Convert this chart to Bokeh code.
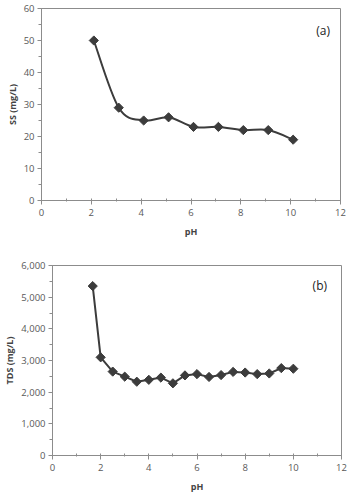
import numpy as np
from bokeh.plotting import figure
from bokeh.layouts import column, row
from bokeh.models import NumeralTickFormatter, FixedTicker, Label, Range1d
from bokeh.embed import file_html
from bokeh.resources import INLINE

# Data
ss_ph = [2.1, 3.1, 4.1, 5.1, 6.1, 7.1, 8.1, 9.1, 10.1]
ss_val = [50, 29, 25, 26, 23, 23, 22, 22, 19]

tds_ph = [1.67, 2.0, 2.5, 3.0, 3.5, 4.0, 4.5, 5.0, 5.5, 6.0, 6.5, 7.0, 7.5, 8.0, 8.5, 9.0, 9.5, 10.0]
tds_val = [5350, 3100, 2650, 2490, 2330, 2390, 2460, 2280, 2530, 2570, 2480, 2540, 2640, 2620, 2570, 2590, 2760, 2740]

x_ticks = [0, 2, 4, 6, 8, 10, 12]
ss_ticks = [0, 10, 20, 30, 40, 50, 60]
tds_ticks = [0, 1000, 2000, 3000, 4000, 5000, 6000]

FONT = "Open Sans"
LINE = "#3c3c3c"
AX = "#8c8c8c"
TXT = "#595959"


def style(p, yticks, ylabel):
    p.outline_line_color = AX
    p.outline_line_width = 1
    p.xgrid.visible = False
    p.ygrid.visible = False
    p.background_fill_color = "white"
    p.border_fill_color = "white"
    p.xaxis.ticker = FixedTicker(ticks=x_ticks, minor_ticks=list(range(0, 13)))
    p.yaxis.ticker = FixedTicker(ticks=yticks,
                                 minor_ticks=list(np.arange(yticks[0], yticks[-1] + 1, (yticks[1] - yticks[0]) / 2)))
    for ax in (p.xaxis[0], p.yaxis[0]):
        ax.axis_line_color = AX
        ax.major_tick_line_color = AX
        ax.minor_tick_line_color = AX
        ax.major_tick_in = 0
        ax.major_tick_out = 4
        ax.minor_tick_in = 0
        ax.minor_tick_out = 3
        ax.major_label_text_font = FONT
        ax.major_label_text_font_size = "9.5px"
        ax.major_label_text_color = TXT
        ax.axis_label_text_font = FONT
        ax.axis_label_text_font_size = "9px"
        ax.axis_label_text_font_style = "bold"
        ax.axis_label_text_color = "#444444"
    p.xaxis.minor_tick_in = 2
    p.xaxis.minor_tick_out = 1
    p.xaxis.axis_label = "pH"
    p.yaxis.axis_label = ylabel
    p.xaxis.major_label_standoff = 4
    p.yaxis.major_label_standoff = 3
    p.xaxis.axis_label_standoff = 6
    p.yaxis.axis_label_standoff = 2


# Top chart (a)
p1 = figure(width=350, height=245, output_backend="svg", toolbar_location=None,
            x_range=Range1d(0, 12), y_range=Range1d(0, 60),
            min_border_left=41, min_border_right=10, min_border_top=8, min_border_bottom=45)
style(p1, ss_ticks, "SS (mg/L)")

x = np.array(ss_ph, dtype=float)
y = np.array(ss_val, dtype=float)
n = len(x)
xp = np.concatenate([[x[0]], x, [x[-1]]])
yp = np.concatenate([[y[0]], y, [y[-1]]])
cx0 = x[:-1] + (xp[2:n + 1] - xp[0:n - 1]) / 6
cy0 = y[:-1] + (yp[2:n + 1] - yp[0:n - 1]) / 6
cx1 = x[1:] - (xp[3:n + 2] - xp[1:n]) / 6
cy1 = y[1:] - (yp[3:n + 2] - yp[1:n]) / 6
p1.bezier(x0=x[:-1], y0=y[:-1], x1=x[1:], y1=y[1:], cx0=cx0, cy0=cy0, cx1=cx1, cy1=cy1,
          line_color=LINE, line_width=2)
p1.scatter(ss_ph, ss_val, marker="square", angle=np.pi / 4, size=6.5,
           fill_color=LINE, line_color=LINE)
p1.add_layout(Label(x=11.3, y=53, text="(a)", text_font=FONT, text_font_size="12px",
                    text_color="#222222", text_align="center", text_baseline="middle"))

# Bottom chart (b)
p2 = figure(width=350, height=250, output_backend="svg", toolbar_location=None,
            x_range=Range1d(0, 12), y_range=Range1d(0, 6000),
            min_border_left=51, min_border_right=9, min_border_top=20, min_border_bottom=40)
style(p2, tds_ticks, "TDS (mg/L)")
p2.yaxis.formatter = NumeralTickFormatter(format="0,0")
p2.line(tds_ph, tds_val, line_color=LINE, line_width=2)
p2.scatter(tds_ph, tds_val, marker="square", angle=np.pi / 4, size=6.5,
           fill_color=LINE, line_color=LINE)
p2.add_layout(Label(x=11.1, y=5370, text="(b)", text_font=FONT, text_font_size="12px",
                    text_color="#222222", text_align="center", text_baseline="middle"))

layout = column(row(p1), row(p2), spacing=0)
open("out.html", "w").write(file_html(layout, INLINE))
